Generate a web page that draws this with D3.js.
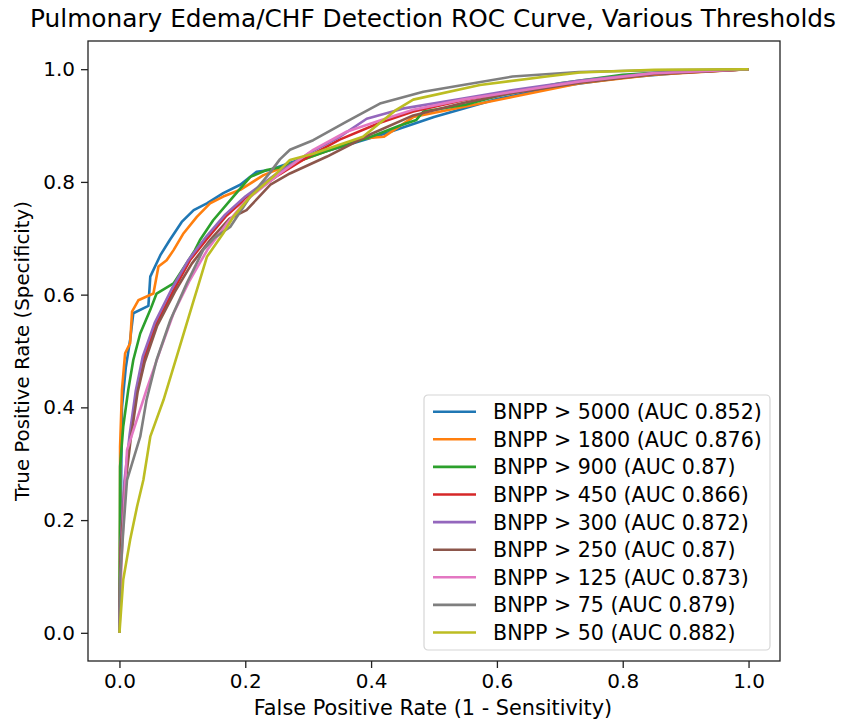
<!DOCTYPE html>
<html>
<head>
<meta charset="utf-8">
<script src="https://cdn.jsdelivr.net/npm/d3@7"></script>
<style>
  body { margin: 0; background: #fff; }
  text { font-family: "DejaVu Sans", sans-serif; fill: #000; }
</style>
</head>
<body>
<div id="chart"></div>
<script>
// ROC points [fpr, tpr]
const thresholds = ["5000", "1800", "900", "450", "300", "250", "125", "75", "50"]
const aucs = ["0.852", "0.876", "0.87", "0.866", "0.872", "0.87", "0.873", "0.879", "0.882"]

const roc5000 = [[0,0],[0.002,0.2],[0.003,0.3],[0.004,0.4],[0.01,0.47],[0.017,0.52],[0.022,0.567],[0.046,0.58],[0.049,0.632],[0.065,0.67],[0.08,0.697],[0.099,0.729],[0.118,0.75],[0.139,0.762],[0.165,0.78],[0.192,0.795],[0.218,0.818],[0.239,0.821],[0.3,0.845],[0.361,0.865],[0.42,0.885],[0.5,0.915],[0.6,0.947],[0.7,0.97],[0.8,0.985],[0.9,0.994],[1,1]]
const roc1800 = [[0,0],[0.001,0.2],[0.001,0.33],[0.004,0.431],[0.009,0.496],[0.017,0.514],[0.02,0.57],[0.03,0.59],[0.054,0.602],[0.062,0.65],[0.075,0.661],[0.086,0.679],[0.102,0.709],[0.123,0.738],[0.144,0.762],[0.165,0.774],[0.192,0.786],[0.229,0.812],[0.28,0.835],[0.335,0.857],[0.387,0.877],[0.42,0.88],[0.467,0.915],[0.546,0.933],[0.626,0.951],[0.732,0.975],[0.85,0.99],[1,1]]
const roc900 = [[0,0],[0.001,0.295],[0.006,0.366],[0.014,0.431],[0.022,0.484],[0.033,0.531],[0.049,0.573],[0.059,0.602],[0.086,0.62],[0.107,0.656],[0.12,0.679],[0.128,0.697],[0.149,0.732],[0.181,0.774],[0.208,0.809],[0.234,0.821],[0.26,0.827],[0.33,0.855],[0.4,0.88],[0.446,0.9],[0.472,0.91],[0.483,0.925],[0.55,0.937],[0.6,0.952],[0.7,0.975],[0.8,0.99],[0.9,0.997],[1,1]]
const roc450 = [[0,0],[0.002,0.15],[0.008,0.26],[0.017,0.348],[0.028,0.431],[0.038,0.484],[0.059,0.549],[0.086,0.608],[0.112,0.661],[0.14,0.7],[0.17,0.74],[0.2,0.77],[0.25,0.81],[0.3,0.845],[0.35,0.875],[0.414,0.905],[0.467,0.925],[0.546,0.945],[0.626,0.96],[0.732,0.978],[0.85,0.992],[1,1]]
const roc300 = [[0,0],[0.002,0.16],[0.008,0.27],[0.016,0.35],[0.026,0.43],[0.037,0.49],[0.056,0.55],[0.083,0.61],[0.11,0.662],[0.138,0.703],[0.168,0.742],[0.2,0.774],[0.25,0.815],[0.3,0.85],[0.35,0.88],[0.393,0.912],[0.45,0.93],[0.546,0.948],[0.626,0.963],[0.732,0.98],[0.85,0.993],[1,1]]
const roc250 = [[0,0],[0.002,0.15],[0.009,0.26],[0.018,0.345],[0.029,0.428],[0.04,0.48],[0.06,0.545],[0.088,0.605],[0.115,0.655],[0.145,0.698],[0.175,0.735],[0.202,0.75],[0.24,0.795],[0.271,0.815],[0.33,0.845],[0.4,0.885],[0.467,0.918],[0.546,0.94],[0.626,0.958],[0.732,0.976],[0.85,0.991],[1,1]]
const roc125 = [[0,0],[0.003,0.12],[0.008,0.24],[0.012,0.324],[0.043,0.431],[0.065,0.502],[0.086,0.567],[0.112,0.626],[0.14,0.68],[0.17,0.725],[0.202,0.768],[0.255,0.815],[0.308,0.857],[0.361,0.889],[0.414,0.909],[0.467,0.928],[0.546,0.946],[0.626,0.96],[0.732,0.978],[0.85,0.993],[1,1]]
const roc75 = [[0,0],[0.001,0.094],[0.006,0.18],[0.012,0.271],[0.02,0.3],[0.033,0.348],[0.043,0.413],[0.059,0.484],[0.081,0.555],[0.107,0.62],[0.133,0.679],[0.15,0.7],[0.176,0.72],[0.208,0.774],[0.239,0.816],[0.255,0.84],[0.271,0.857],[0.308,0.874],[0.361,0.907],[0.414,0.939],[0.483,0.96],[0.546,0.972],[0.625,0.987],[0.73,0.995],[0.85,0.998],[1,1]]
const roc50 = [[0,0],[0.006,0.094],[0.017,0.165],[0.028,0.224],[0.038,0.271],[0.049,0.348],[0.07,0.413],[0.091,0.49],[0.118,0.59],[0.123,0.608],[0.139,0.667],[0.165,0.709],[0.181,0.738],[0.208,0.774],[0.244,0.809],[0.271,0.839],[0.308,0.85],[0.387,0.88],[0.44,0.928],[0.467,0.946],[0.573,0.972],[0.679,0.987],[0.732,0.994],[0.85,0.999],[1,1]]

const curves = [roc5000, roc1800, roc900, roc450, roc300, roc250, roc125, roc75, roc50]
const tickValues = [0, 0.2, 0.4, 0.6, 0.8, 1.0]

const width = 844
const height = 721
const margin = { top: 41, right: 64, bottom: 60, left: 88 }

const color = d3.scaleOrdinal()
    .domain(thresholds)
    .range(["#1f77b4", "#ff7f0e", "#2ca02c", "#d62728", "#9467bd", "#8c564b", "#e377c2", "#7f7f7f", "#bcbd22"])

const svg = d3.select("#chart").append("svg")
    .attr("width", width)
    .attr("height", height)

const x = d3.scaleLinear().domain([-0.05, 1.05]).range([margin.left, width - margin.right])
const y = d3.scaleLinear().domain([-0.05, 1.05]).range([height - margin.bottom, margin.top])

// curves
const line = d3.line().x(d => x(d[0])).y(d => y(d[1]))
svg.append("g")
    .selectAll("path")
    .data(curves)
    .join("path")
    .attr("d", line)
    .attr("fill", "none")
    .attr("stroke", (d, i) => color(thresholds[i]))
    .attr("stroke-width", 2.6)
    .attr("stroke-linejoin", "round")

// axes
const xAxis = svg.append("g")
    .attr("transform", `translate(0,${height - margin.bottom})`)
    .call(d3.axisBottom(x).tickValues(tickValues).tickFormat(d3.format(".1f")).tickSizeOuter(0).tickSize(7).tickPadding(6))
const yAxis = svg.append("g")
    .attr("transform", `translate(${margin.left},0)`)
    .call(d3.axisLeft(y).tickValues(tickValues).tickFormat(d3.format(".1f")).tickSizeOuter(0).tickSize(7).tickPadding(6))

for (const g of [xAxis, yAxis]) {
    g.select(".domain").remove()
    g.selectAll("line").attr("stroke", "#222").attr("stroke-width", 1.3)
    g.selectAll("text").attr("font-size", 20).attr("font-family", "DejaVu Sans").attr("fill", "#222")
}

// frame
svg.append("rect")
    .attr("x", margin.left)
    .attr("y", margin.top)
    .attr("width", width - margin.left - margin.right)
    .attr("height", height - margin.bottom - margin.top)
    .attr("fill", "none")
    .attr("stroke", "#222")
    .attr("stroke-width", 1.3)

// title and labels
svg.append("text")
    .attr("x", 433)
    .attr("y", 27)
    .attr("text-anchor", "middle")
    .attr("font-size", 24.8)
    .text("Pulmonary Edema/CHF Detection ROC Curve, Various Thresholds")

svg.append("text")
    .attr("x", 433)
    .attr("y", 715)
    .attr("text-anchor", "middle")
    .attr("font-size", 20.8)
    .text("False Positive Rate (1 - Sensitivity)")

svg.append("text")
    .attr("transform", `translate(29,${(margin.top + height - margin.bottom) / 2}) rotate(-90)`)
    .attr("text-anchor", "middle")
    .attr("font-size", 19.8)
    .text("True Positive Rate (Specificity)")

// legend
const legend = svg.append("g").attr("transform", "translate(424,395)")
legend.append("rect")
    .attr("width", 346)
    .attr("height", 255)
    .attr("rx", 4)
    .attr("fill", "#fff")
    .attr("fill-opacity", 0.8)
    .attr("stroke", "#d6d6d6")
    .attr("stroke-width", 1.2)

const rows = legend.selectAll(".row")
    .data(thresholds)
    .join("g")
    .attr("class", "row")
    .attr("transform", (d, i) => `translate(0,${16.7 + i * 27.6})`)

rows.append("line")
    .attr("x1", 9).attr("x2", 52)
    .attr("stroke", d => color(d))
    .attr("stroke-width", 2.6)

rows.append("text")
    .attr("x", 69)
    .attr("dy", "0.36em")
    .attr("font-size", 20.6)
    .text((d, i) => `BNPP > ${d} (AUC ${aucs[i]})`)
</script>
</body>
</html>
